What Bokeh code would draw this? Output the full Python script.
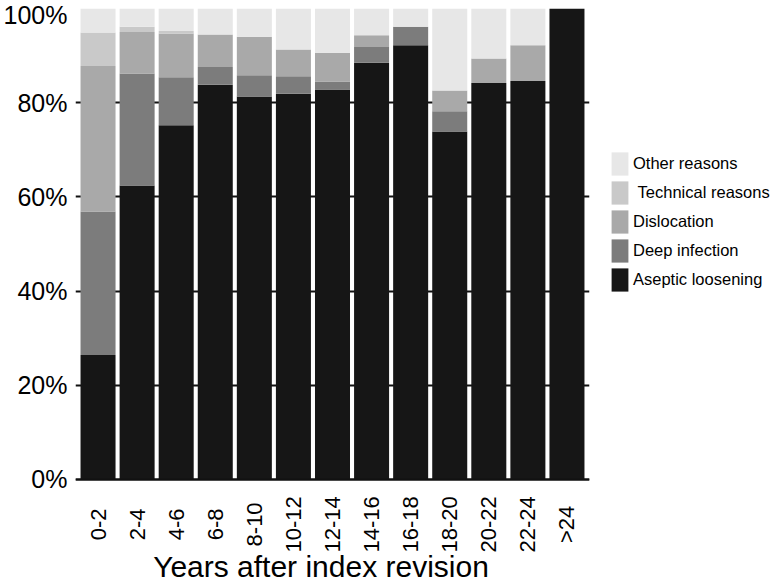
import math
from bokeh.plotting import figure
from bokeh.models import (FactorRange, Range1d, FixedTicker, LabelSet, Label,
                          Legend, LegendItem, ColumnDataSource, Span)
from bokeh.core.properties import value
from bokeh.embed import file_html
from bokeh.resources import INLINE

# ---- data (percent of revisions per interval) ----
categories = ["0-2", "2-4", "4-6", "6-8", "8-10", "10-12", "12-14",
              "14-16", "16-18", "18-20", "20-22", "22-24", ">24"]
aseptic_loosening = [26.4, 62.4, 75.2, 83.8, 81.3, 81.9, 82.8, 88.5, 92.2, 73.9, 84.2, 84.6, 100.0]
deep_infection = [30.5, 23.8, 10.2, 3.8, 4.5, 3.7, 1.7, 3.3, 3.9, 4.3, 0.0, 0.0, 0.0]
dislocation = [30.9, 8.8, 9.3, 6.9, 8.2, 5.7, 6.1, 2.5, 0.0, 4.4, 5.2, 7.6, 0.0]
technical_reasons = [7.1, 1.1, 0.5, 0.0, 0.0, 0.0, 0.0, 0.0, 0.0, 0.0, 0.0, 0.0, 0.0]
other_reasons = [5.1, 3.9, 4.8, 5.5, 6.0, 8.7, 9.4, 5.7, 3.9, 17.4, 10.6, 7.8, 0.0]

series_names = ["Aseptic loosening", "Deep infection", "Dislocation",
                "Technical reasons", "Other reasons"]
legend_labels = ["Aseptic loosening", "Deep infection", "Dislocation",
                 "\u00a0Technical reasons", "Other reasons"]
y_ticks = [0, 20, 40, 60, 80, 100]
y_tick_labels = ["0%", "20%", "40%", "60%", "80%", "100%"]
x_title = "Years after index revision"

# ---- styles / layout ----
colors = ["#161616", "#7c7c7c", "#a9a9a9", "#c9c9c9", "#e7e7e7"]
FONT = "Liberation Sans"
W, H = 772, 584
LEFT, TOP, FRAME_W = 73, 8, 514
PX_PER_PCT = 4.709                      # 0% at y=479, 100% at y=8
FRAME_H = H - TOP
Y_MIN = -(FRAME_H - 100 * PX_PER_PCT) / PX_PER_PCT   # room for labels inside frame
SWATCH_H = 29

src = ColumnDataSource(data={
    "cats": categories,
    "Aseptic loosening": aseptic_loosening,
    "Deep infection": deep_infection,
    "Dislocation": dislocation,
    "Technical reasons": technical_reasons,
    "Other reasons": other_reasons,
})

p = figure(x_range=FactorRange(factors=categories, range_padding=0.0118),
           y_range=Range1d(Y_MIN, 100),
           frame_width=FRAME_W, frame_height=FRAME_H,
           min_border_left=LEFT, min_border_right=W - LEFT - FRAME_W,
           min_border_top=TOP, min_border_bottom=0,
           output_backend="svg", toolbar_location=None)
p.outline_line_color = None
p.background_fill_color = "white"
p.border_fill_color = "white"

renderers = p.vbar_stack(series_names, x="cats", width=0.896, source=src,
                         fill_color=colors, line_color=None)

# legend swatch helpers: thick lines fill the whole legend glyph box
swatches = [p.line(x=[], y=[], line_color=c, line_width=SWATCH_H) for c in colors]

# grid
p.xgrid.visible = False
p.ygrid.ticker = FixedTicker(ticks=y_ticks)
p.ygrid.grid_line_color = "#111111"
p.ygrid.grid_line_width = 2

# y axis
p.yaxis.ticker = FixedTicker(ticks=y_ticks)
p.yaxis.major_label_overrides = {t: l for t, l in zip(y_ticks, y_tick_labels)}
p.yaxis.axis_line_color = None
p.yaxis.major_tick_out = 0
p.yaxis.major_tick_in = 0
p.yaxis.minor_tick_line_color = None
p.yaxis.major_label_standoff = 8
p.yaxis.major_label_text_font = FONT
p.yaxis.major_label_text_font_size = "25px"
p.yaxis.major_label_text_color = "black"

# x axis: baseline + centred rotated labels + title
p.xaxis.visible = False
p.add_layout(Span(location=0, dimension="width", line_color="#111111", line_width=2))

lab_src = ColumnDataSource(data={"x": categories, "text": categories})
p.add_layout(LabelSet(x="x", y=-9.56, text="text", source=lab_src,
                      angle=math.pi / 2, text_align="center", text_baseline="middle",
                      text_font=value(FONT), text_font_size="22px", text_color="black"))

p.add_layout(Label(x=245.5, y=-18.45, x_units="screen", y_units="data", text=x_title,
                   text_align="center", text_baseline="middle",
                   text_font=FONT, text_font_size="30px", text_color="black"))

items = [LegendItem(label=legend_labels[i], renderers=[renderers[i], swatches[i]])
         for i in reversed(range(len(series_names)))]
legend = Legend(items=items, location=(20, H - 294),
                glyph_width=21, glyph_height=SWATCH_H, label_height=SWATCH_H,
                spacing=0, padding=0, margin=0, label_standoff=3,
                label_text_font=FONT, label_text_font_size="16.5px",
                label_text_color="black",
                border_line_color=None, background_fill_alpha=0)
p.add_layout(legend, "right")

open("out.html", "w").write(file_html(p, INLINE))
